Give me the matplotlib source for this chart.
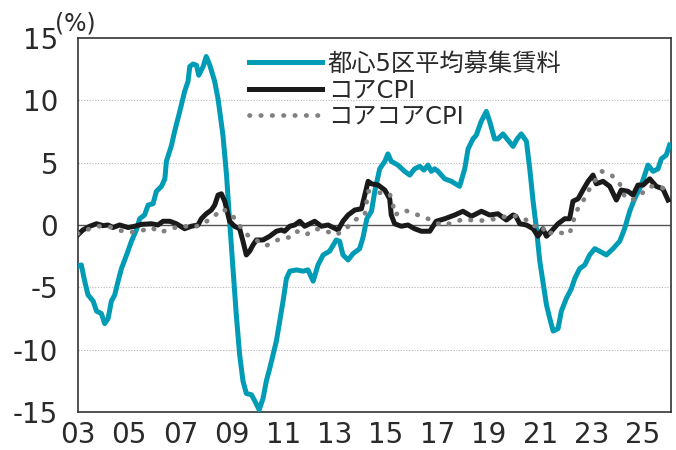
import matplotlib
matplotlib.use('Agg')
import matplotlib.pyplot as plt
import numpy as np

plt.rcParams['font.family'] = ['DejaVu Sans', 'Noto Sans CJK JP']
plt.rcParams['axes.unicode_minus'] = False

# 都心5区平均募集賃料 (前年比, %)
rent_t = [2003.0, 2003.14, 2003.27, 2003.4, 2003.6, 2003.73, 2003.92, 2004.05, 2004.18, 2004.31,
          2004.44, 2004.57, 2004.7, 2004.9, 2005.09, 2005.28, 2005.41, 2005.6, 2005.74, 2005.93,
          2006.06, 2006.26, 2006.39, 2006.45, 2006.65, 2006.77, 2006.97, 2007.16, 2007.29, 2007.36,
          2007.49, 2007.62, 2007.71, 2007.88, 2008.0, 2008.14, 2008.33, 2008.46, 2008.65, 2008.79,
          2008.91, 2009.04, 2009.17, 2009.3, 2009.43, 2009.56, 2009.76, 2009.89, 2010.06, 2010.21,
          2010.34, 2010.47, 2010.6, 2010.73, 2010.86, 2010.99, 2011.12, 2011.25, 2011.51, 2011.77,
          2011.96, 2012.16, 2012.35, 2012.55, 2012.8, 2013.06, 2013.19, 2013.32, 2013.52, 2013.71,
          2013.97, 2014.1, 2014.25, 2014.43, 2014.56, 2014.75, 2014.95, 2015.07, 2015.2, 2015.46,
          2015.72, 2015.92, 2016.11, 2016.31, 2016.47, 2016.63, 2016.76, 2016.89, 2017.02, 2017.28,
          2017.54, 2017.86, 2018.06, 2018.19, 2018.38, 2018.51, 2018.7, 2018.9, 2019.03, 2019.22,
          2019.35, 2019.55, 2019.74, 2019.94, 2020.1, 2020.26, 2020.46, 2020.59, 2020.72, 2020.85,
          2020.98, 2021.1, 2021.24, 2021.37, 2021.5, 2021.69, 2021.82, 2022.01, 2022.21, 2022.34,
          2022.53, 2022.73, 2022.92, 2023.12, 2023.31, 2023.57, 2023.83, 2024.09, 2024.28, 2024.48,
          2024.67, 2024.93, 2025.19, 2025.39, 2025.58, 2025.71, 2025.9, 2026.03]
rent_v = [-3.3, -3.2, -4.5, -5.6, -6.1, -6.9, -7.1, -7.9, -7.5, -6.1,
          -5.6, -4.5, -3.5, -2.4, -1.3, -0.4, 0.5, 0.8, 1.6, 1.7,
          2.7, 3.1, 3.7, 5.1, 6.4, 7.5, 9.1, 10.7, 11.5, 12.7,
          12.9, 12.8, 12.0, 12.7, 13.5, 12.8, 11.5, 10.1, 7.2, 4.0,
          0.3, -3.5, -7.2, -10.4, -12.5, -13.5, -13.6, -14.1, -14.8, -13.9,
          -12.5, -11.5, -10.4, -9.3, -7.7, -6.1, -4.3, -3.7, -3.6, -3.7,
          -3.6, -4.5, -3.2, -2.4, -2.1, -1.2, -1.3, -2.4, -2.8, -2.3,
          -1.9, -1.0, 0.5, 1.1, 2.7, 4.5, 5.1, 5.7, 5.1, 4.8,
          4.3, 4.0, 4.5, 4.7, 4.4, 4.8, 4.3, 4.5, 4.3, 3.7,
          3.5, 3.1, 4.5, 6.1, 6.9, 7.2, 8.3, 9.1, 8.3, 6.9,
          6.9, 7.3, 6.8, 6.3, 6.9, 7.3, 6.7, 4.5, 1.9, -0.3,
          -2.9, -4.5, -6.4, -7.5, -8.5, -8.3, -6.9, -5.9, -5.1, -4.3,
          -3.5, -3.2, -2.4, -1.9, -2.1, -2.4, -1.9, -1.3, -0.3, 1.1,
          2.1, 3.2, 4.8, 4.3, 4.5, 5.3, 5.6, 6.4]

# コアCPI
core_t = [2003.0, 2003.2, 2003.47, 2003.73, 2003.98, 2004.18, 2004.37, 2004.63, 2004.96, 2005.22,
          2005.48, 2005.87, 2006.12, 2006.32, 2006.58, 2006.84, 2007.16, 2007.42, 2007.68, 2007.81,
          2008.0, 2008.2, 2008.33, 2008.46, 2008.59, 2008.72, 2008.91, 2009.1, 2009.3, 2009.43,
          2009.56, 2009.69, 2009.82, 2009.95, 2010.21, 2010.47, 2010.73, 2010.93, 2011.05, 2011.25,
          2011.44, 2011.64, 2011.83, 2012.22, 2012.48, 2012.74, 2013.13, 2013.32, 2013.52, 2013.78,
          2014.04, 2014.17, 2014.3, 2014.43, 2014.69, 2014.95, 2015.14, 2015.2, 2015.33, 2015.59,
          2015.85, 2016.11, 2016.37, 2016.7, 2016.95, 2017.28, 2017.67, 2017.99, 2018.32, 2018.71,
          2019.03, 2019.35, 2019.68, 2019.94, 2020.05, 2020.2, 2020.46, 2020.72, 2020.91, 2021.1,
          2021.24, 2021.43, 2021.69, 2021.95, 2022.14, 2022.27, 2022.47, 2022.66, 2022.86, 2023.05,
          2023.18, 2023.44, 2023.7, 2023.96, 2024.15, 2024.41, 2024.61, 2024.8, 2025.0, 2025.26,
          2025.51, 2025.77, 2025.97]
core_v = [-0.8, -0.4, -0.1, 0.1, -0.05, 0.0, -0.2, 0.0, -0.2, -0.1,
          0.05, 0.1, 0.0, 0.3, 0.3, 0.1, -0.3, -0.1, 0.0, 0.5,
          0.9, 1.2, 1.6, 2.4, 2.5, 1.9, 0.3, -0.1, -0.3, -1.3,
          -2.4, -2.1, -1.6, -1.2, -1.2, -0.9, -0.5, -0.4, -0.5, -0.1,
          0.0, 0.3, -0.1, 0.3, -0.1, 0.0, -0.4, 0.3, 0.8, 1.2,
          1.3, 2.4, 3.5, 3.3, 3.2, 2.8, 2.1, 0.8, 0.1, -0.1,
          0.0, -0.3, -0.5, -0.5, 0.3, 0.5, 0.8, 1.1, 0.7, 1.1,
          0.8, 0.9, 0.4, 0.8, 0.7, 0.1, 0.0, -0.3, -0.9, -0.3,
          -0.9, -0.5, 0.1, 0.5, 0.5, 1.9, 2.1, 2.8, 3.5, 4.0,
          3.3, 3.5, 3.1, 2.0, 2.8, 2.7, 2.4, 3.2, 3.2, 3.7,
          3.1, 2.9, 2.0]

# コアコアCPI
cc_t = [2003.0, 2003.4, 2003.8, 2004.18, 2004.57, 2005.02, 2005.41, 2005.87, 2006.19, 2006.65,
        2007.03, 2007.49, 2007.88, 2008.3, 2008.65, 2009.04, 2009.3, 2009.63, 2010.02, 2010.34,
        2010.67, 2010.99, 2011.22, 2011.51, 2011.87, 2012.26, 2012.68, 2013.06, 2013.43, 2013.78,
        2014.17, 2014.3, 2014.7, 2015.14, 2015.27, 2015.33, 2015.72, 2016.05, 2016.44, 2016.82,
        2017.21, 2017.6, 2018.06, 2018.51, 2018.9, 2019.35, 2019.74, 2020.1, 2020.46, 2020.72,
        2021.04, 2021.24, 2021.56, 2021.95, 2022.14, 2022.4, 2022.66, 2022.86, 2023.13, 2023.4,
        2023.77, 2024.09, 2024.28, 2024.57, 2024.93, 2025.3, 2025.65, 2025.97]
cc_v = [-0.7, -0.35, -0.1, -0.1, -0.4, -0.6, -0.5, -0.2, -0.6, -0.3,
        -0.05, -0.2, 0.1, 0.7, 1.3, 0.7, -0.05, -0.85, -1.3, -1.65,
        -1.3, -1.0, -1.0, -0.5, -0.8, -0.3, -0.5, -0.8, -0.3, 0.4,
        0.8, 2.7, 2.6, 2.5, 1.6, 0.8, 1.2, 0.9, 0.7, 0.3,
        -0.05, 0.2, 0.5, 0.3, 0.4, 0.5, 0.75, 0.7, 0.4, -0.1,
        0.0, -0.8, -0.5, -0.7, -0.7, 1.1, 1.9, 2.7, 3.55, 4.3,
        4.0, 3.3, 2.3, 2.0, 2.5, 3.1, 3.1, 2.7]

year_ticks = list(range(2003, 2026, 2))
year_labels = [f'{y % 100:02d}' for y in year_ticks]

teal = '#009bb5'
fig = plt.figure(figsize=(6.76, 4.5), dpi=100)
ax = fig.add_axes([0.115, 0.084, 0.877, 0.832])

for yv in [-10, -5, 5, 10]:
    ax.axhline(yv, color='#b5b5b5', lw=0.8, ls=(0, (1, 1.5)), zorder=0)
ax.axhline(0, color='#555555', lw=1.0, zorder=1)

ax.plot(rent_t, rent_v, color=teal, lw=3.6, solid_joinstyle='round', zorder=3,
        label='都心5区平均募集賃料')
ax.plot(core_t, core_v, color='#1a1a1a', lw=3.6, solid_joinstyle='round', zorder=4,
        label='コアCPI')
ax.plot(cc_t, cc_v, color='#808080', lw=3.4, ls=(0, (0.1, 2.3)), dash_capstyle='round',
        zorder=5, label='コアコアCPI')

ax.set_xlim(2003.0, 2026.07)
ax.set_ylim(-15, 15)
ax.set_yticks([-15, -10, -5, 0, 5, 10, 15])
ax.set_xticks(year_ticks)
ax.set_xticklabels(year_labels)
ax.tick_params(axis='both', length=0, labelsize=20, colors='#2a2a2a')
ax.tick_params(axis='y', pad=14)
ax.tick_params(axis='x', pad=6)
for s in ax.spines.values():
    s.set_color('#333333')
    s.set_linewidth(1.2)

fig.text(0.0814, 0.9333, '(%)', fontsize=17, color='#2a2a2a', ha='left', va='baseline')

ax.legend(loc='upper left', bbox_to_anchor=(0.368, 0.885), bbox_transform=fig.transFigure,
          frameon=False, fontsize=17.5, handlelength=3.0, handletextpad=0.25,
          labelspacing=0.1, borderaxespad=0, borderpad=0, labelcolor='#2a2a2a')

plt.savefig('out.png', dpi=100)
